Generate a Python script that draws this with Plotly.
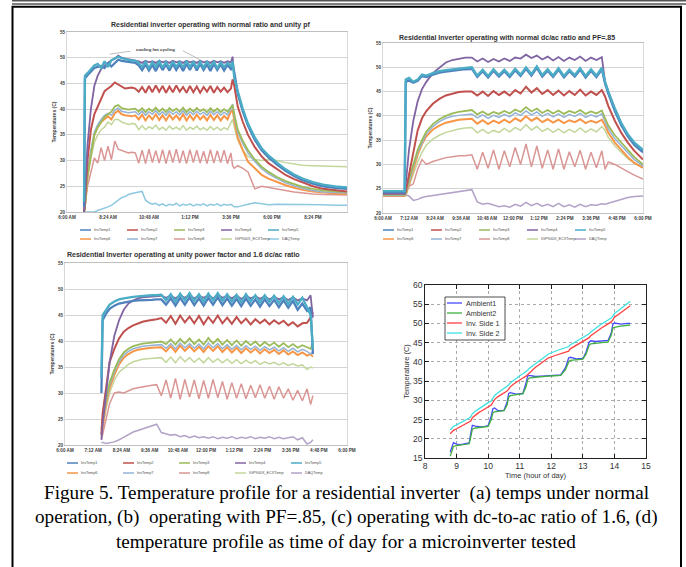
import plotly.graph_objects as go

W, H = 686, 567

# ----------------------------------------------------------------- data
SERIES_NAMES = ["InvTemp1", "InvTemp2", "InvTemp3", "InvTemp4", "InvTemp5",
                "InvTemp6", "InvTemp7", "InvTemp8", "IGP900X_ECXTemp", "DAQTemp"]

# ---- panel (a): normal ratio, unity pf (time in hours of day)
A_T = [7.0, 7.05, 7.2, 7.4, 7.6, 7.8, 8.0,
       8.2, 8.4, 8.6, 8.8, 9.0, 9.2, 9.4, 9.6, 9.8, 10.0,
       10.2, 10.4, 10.6, 10.8, 11.0, 11.2, 11.4,
       11.6, 11.8, 12.0, 12.2, 12.4, 12.6, 12.8,
       13.0, 13.2, 13.4, 13.6, 13.8, 14.0, 14.2,
       14.4, 14.6, 14.8, 15.0, 15.2, 15.4, 15.6,
       15.7, 15.8,
       16.0, 16.3, 16.6, 17.0, 17.4, 17.8, 18.3, 18.8, 19.3, 19.8, 20.4, 21.0, 21.7, 22.4]
A_INV1 = [21.0, 46.0, 46.6, 47.2, 48.0, 48.2, 48.4,
          48.0, 48.9, 48.3, 49.0, 49.6, 49.4, 49.3, 49.2, 49.1, 49.0,
          48.5, 47.6, 48.7, 47.5, 48.6, 47.4, 48.8,
          47.6, 48.7, 47.5, 48.8, 47.6, 48.7, 47.4,
          48.8, 47.6, 48.9, 47.5, 48.8, 47.6, 48.7,
          47.4, 48.8, 47.6, 48.7, 47.5, 48.6, 47.8,
          48.5, 47.2,
          43.0, 39.5, 36.8, 34.0, 32.0, 30.6, 29.2, 28.0, 27.0, 26.2, 25.5, 25.0, 24.7, 24.5]
A_INV2 = [20.0, 22.0, 30.0, 36.0, 39.0, 40.5, 42.0,
          43.5, 44.0, 44.5, 45.2, 44.8, 44.3, 44.0, 44.1, 44.2, 44.0,
          43.4, 44.3, 43.2, 44.5, 43.3, 44.6, 43.4,
          44.5, 43.2, 44.4, 43.3, 44.6, 43.4, 44.3,
          43.2, 44.5, 43.3, 44.4, 43.2, 44.3, 43.4,
          44.5, 43.2, 44.3, 43.4, 44.2, 43.3, 44.0,
          45.8, 44.5,
          40.5, 37.5, 35.0, 32.6, 30.8, 29.5, 28.3, 27.2, 26.4, 25.7, 25.0, 24.5, 24.2, 24.0]
A_INV3 = [20.0, 21.0, 27.0, 31.0, 35.0, 36.5, 37.5,
          38.5, 39.0, 39.5, 40.5, 40.8, 40.2, 40.0, 39.9, 40.0, 40.1,
          39.5, 40.2, 39.4, 40.1, 39.6, 40.3, 39.5,
          40.1, 39.4, 40.2, 39.6, 40.1, 39.5, 40.3,
          39.4, 40.1, 39.5, 40.2, 39.6, 40.0, 39.4,
          40.2, 39.5, 40.1, 39.4, 40.0, 39.5, 40.4,
          40.8, 39.0,
          36.0, 33.8, 32.0, 30.2, 28.8, 27.8, 26.8, 26.0, 25.4, 24.9, 24.5, 24.2, 24.0, 23.9]
A_INV4 = [20.0, 24.0, 33.0, 40.0, 44.5, 46.5, 47.8,
          48.5, 49.0, 49.5, 49.8, 50.4, 50.0, 49.8, 49.7, 49.6, 49.5,
          49.3, 49.0, 49.4, 49.1, 49.3, 49.0, 49.4,
          49.1, 49.3, 49.0, 49.4, 49.1, 49.3, 49.0,
          49.4, 49.1, 49.3, 49.0, 49.4, 49.1, 49.3,
          49.0, 49.4, 49.1, 49.3, 49.0, 49.3, 49.1,
          50.2, 46.5,
          43.2, 39.8, 37.0, 34.2, 32.2, 30.8, 29.4, 28.2, 27.2, 26.4, 25.6, 25.1, 24.8, 24.6]
A_INV5 = [22.0, 46.5, 47.0, 47.8, 48.5, 48.8, 48.0,
          49.3, 48.2, 49.5, 49.8, 50.2, 49.9, 49.7, 49.6, 49.5, 49.4,
          49.0, 48.2, 49.2, 48.0, 49.1, 48.3, 49.3,
          48.1, 49.2, 48.0, 49.3, 48.2, 49.2, 48.1,
          49.4, 48.2, 49.3, 48.0, 49.2, 48.1, 49.3,
          48.2, 49.2, 48.0, 49.1, 48.2, 49.0, 48.4,
          49.3, 46.0,
          43.5, 40.0, 37.2, 34.5, 32.4, 31.0, 29.6, 28.3, 27.3, 26.5, 25.8, 25.3, 25.0, 24.8]
A_INV6 = [20.0, 21.0, 27.0, 31.5, 35.0, 36.5, 37.5,
          38.0, 38.6, 38.0, 39.2, 39.7, 39.0, 38.8, 38.7, 38.6, 38.8,
          38.0, 38.9, 37.8, 38.8, 38.0, 39.0, 37.9,
          38.8, 37.8, 38.9, 38.0, 38.8, 37.9, 39.0,
          37.8, 38.8, 37.9, 38.9, 38.0, 38.7, 37.8,
          38.9, 37.9, 38.8, 37.8, 38.7, 38.0, 39.5,
          39.8, 37.8,
          34.5, 32.0, 29.8, 28.5, 27.2, 26.5, 25.8, 25.2, 24.7, 24.3, 24.0, 23.8, 23.6, 23.5]
A_INV7 = [20.0, 21.0, 27.5, 32.0, 35.5, 37.0, 38.0,
          38.8, 39.2, 38.8, 39.8, 40.2, 39.6, 39.4, 39.3, 39.4, 39.5,
          38.9, 39.6, 38.8, 39.5, 39.0, 39.7, 38.9,
          39.5, 38.8, 39.6, 39.0, 39.5, 38.9, 39.7,
          38.8, 39.5, 38.9, 39.6, 39.0, 39.4, 38.8,
          39.6, 38.9, 39.5, 38.8, 39.4, 38.9, 40.0,
          41.0, 38.5,
          35.5, 33.3, 31.5, 29.8, 28.4, 27.4, 26.5, 25.7, 25.1, 24.6, 24.2, 23.9, 23.8, 23.7]
A_INV8 = [20.0, 21.0, 25.0, 28.0, 30.5, 29.5, 32.5,
          30.0, 32.8, 30.2, 33.8, 32.2, 32.0, 31.8, 31.5, 31.6, 31.5,
          29.5, 32.0, 29.4, 32.2, 29.6, 31.9, 29.5,
          32.1, 29.4, 32.0, 29.6, 32.2, 29.5, 31.9,
          29.4, 32.1, 29.6, 32.0, 29.5, 31.8, 29.4,
          32.1, 29.5, 31.9, 29.6, 32.0, 29.4, 31.5,
          29.0, 28.5,
          29.0, 28.5, 27.8, 24.5, 25.0, 24.8, 24.5, 24.2, 23.9, 23.7, 23.5, 23.4, 23.3, 23.3]
A_IGP = [20.0, 21.0, 26.5, 30.5, 33.5, 35.0, 36.0,
         36.5, 37.5, 37.0, 38.0, 38.0, 37.5, 37.3, 37.0, 37.2, 37.1,
         36.0, 36.8, 36.0, 36.6, 36.2, 36.9, 36.0,
         36.5, 35.9, 36.7, 36.1, 36.5, 36.0, 36.8,
         35.9, 36.5, 36.1, 36.7, 36.0, 36.4, 35.9,
         36.6, 36.0, 36.5, 35.9, 36.4, 36.0, 37.5,
         38.0, 36.5,
         34.0, 32.0, 30.8, 30.2, 30.0, 30.2, 30.0, 29.6, 29.3, 29.1, 29.0, 28.9, 28.9, 28.8]
A_DAQ = [20.0, 20.0, 20.0, 20.0, 20.0, 20.3, 20.5,
         20.8, 21.0, 21.3, 21.8, 22.4, 22.8, 23.0, 23.4, 23.6, 23.8,
         23.9, 24.0, 22.3, 21.8, 21.5, 21.7, 21.3,
         21.6, 21.2, 21.5, 21.3, 21.7, 21.2, 21.5,
         21.3, 21.6, 21.2, 21.5, 21.3, 21.6, 21.2,
         21.5, 21.3, 21.6, 21.2, 21.5, 21.3, 21.5,
         21.2, 21.0,
         21.0, 21.3, 21.5, 21.8, 21.6, 21.4, 21.5, 21.5, 21.5, 21.5, 21.4, 21.4, 21.3, 21.3]

# ---- panel (b): normal dc/ac ratio, PF=.85
B_T = [6.0, 6.5, 7.0, 7.05, 7.2, 7.4, 7.6, 7.8, 8.0, 8.3, 8.6, 8.9, 9.2, 9.5, 9.8, 10.1,
       10.35, 10.6, 10.85, 11.1, 11.35, 11.6,
       11.85, 12.1, 12.35, 12.6, 12.85, 13.1,
       13.35, 13.6, 13.85, 14.1, 14.35, 14.6,
       14.85, 15.1, 15.35, 15.6, 15.85, 16.1,
       16.25, 16.4, 16.7, 17.0, 17.3, 17.6, 18.0]
B_INV1 = [24.3, 24.3, 24.3, 47.0, 47.3, 46.8, 47.2, 48.2, 48.0, 48.5, 48.9, 49.1, 49.3, 49.5, 49.6, 49.7,
          48.0, 49.2, 47.9, 49.3, 48.1, 49.2,
          48.0, 49.4, 48.2, 49.7, 48.3, 49.9,
          48.1, 49.3, 48.0, 49.5, 47.9, 49.2,
          48.1, 49.5, 47.9, 49.3, 48.0, 49.6,
          46.6, 44.6, 41.0, 38.0, 35.8, 34.0, 32.5]
B_INV2 = [24.0, 24.0, 24.0, 24.5, 28.0, 33.0, 37.0, 39.5, 41.0, 42.5, 43.5, 44.2, 44.6, 44.9, 45.0, 45.0,
          44.2, 45.0, 44.1, 45.1, 44.3, 45.0,
          44.2, 45.3, 44.6, 46.0, 44.8, 45.7,
          44.5, 45.3, 44.3, 45.2, 44.2, 45.1,
          44.3, 45.4, 44.2, 45.0, 44.3, 45.3,
          44.0, 42.0, 39.0, 36.5, 34.5, 32.8, 31.0]
B_INV3 = [23.8, 23.8, 23.8, 24.0, 27.0, 30.0, 33.0, 35.0, 36.8, 38.3, 39.3, 40.0, 40.5, 40.8, 41.0, 41.2,
          40.3, 40.9, 40.2, 40.8, 40.4, 41.0,
          40.5, 41.3, 40.8, 41.8, 40.9, 41.5,
          40.6, 41.2, 40.5, 41.1, 40.4, 41.0,
          40.6, 41.2, 40.4, 40.9, 40.5, 41.1,
          39.5, 38.0, 36.0, 34.5, 33.0, 31.5, 30.0]
B_INV4 = [24.0, 24.0, 24.0, 26.0, 33.0, 39.0, 43.0, 45.5, 47.0, 48.8, 50.0, 51.0, 51.5, 51.8, 52.0, 52.0,
          51.2, 51.8, 51.1, 51.7, 51.2, 51.8,
          51.3, 52.0, 51.8, 52.6, 51.9, 52.4,
          51.6, 52.2, 51.4, 52.1, 51.3, 52.0,
          51.5, 52.2, 51.3, 52.0, 51.5, 52.1,
          47.0, 45.0, 41.5, 38.5, 36.0, 34.2, 32.6]
B_INV5 = [24.5, 24.5, 24.5, 47.5, 47.8, 47.0, 47.5, 48.5, 48.3, 48.8, 49.2, 49.4, 49.6, 49.8, 49.9, 50.0,
          48.3, 49.5, 48.2, 49.6, 48.4, 49.5,
          48.3, 49.7, 48.5, 50.0, 48.6, 50.2,
          48.4, 49.6, 48.3, 49.8, 48.2, 49.5,
          48.4, 49.8, 48.2, 49.6, 48.3, 49.9,
          47.0, 45.0, 41.5, 38.5, 36.2, 34.5, 33.0]
B_INV6 = [23.5, 23.5, 23.5, 23.7, 26.0, 29.0, 32.0, 34.2, 35.8, 37.2, 38.0, 38.6, 38.9, 39.2, 39.3, 39.4,
          38.4, 39.1, 38.3, 39.0, 38.5, 39.2,
          38.6, 39.5, 38.9, 39.9, 39.0, 39.6,
          38.7, 39.3, 38.6, 39.2, 38.5, 39.1,
          38.7, 39.3, 38.5, 39.0, 38.6, 39.2,
          38.0, 36.5, 34.5, 33.0, 31.5, 30.3, 29.3]
B_INV7 = [23.6, 23.6, 23.6, 23.8, 26.5, 29.5, 32.5, 34.5, 36.3, 37.8, 38.8, 39.5, 39.9, 40.1, 40.3, 40.4,
          39.6, 40.2, 39.5, 40.1, 39.7, 40.3,
          39.8, 40.6, 40.1, 41.0, 40.2, 40.8,
          39.9, 40.5, 39.8, 40.4, 39.7, 40.3,
          39.9, 40.5, 39.7, 40.2, 39.8, 40.4,
          38.8, 37.3, 35.3, 33.8, 32.3, 31.0, 29.7]
B_INV8 = [23.5, 23.5, 23.5, 24.0, 25.5, 26.0, 29.0, 31.0, 30.0, 30.6, 31.0, 31.4, 31.6, 31.8, 31.8, 32.0,
          29.0, 32.5, 29.2, 33.0, 29.0, 32.8,
          29.5, 33.5, 30.0, 34.2, 29.5, 33.8,
          29.2, 33.0, 29.0, 33.2, 29.0, 32.6,
          29.5, 32.9, 29.0, 32.5, 29.3, 32.8,
          29.0, 30.5, 30.0, 29.2, 28.5, 27.8, 27.0]
B_IGP = [23.5, 23.5, 23.5, 23.6, 25.5, 28.0, 30.5, 32.5, 34.0, 35.2, 36.0, 36.6, 37.0, 37.3, 37.5, 37.6,
         36.5, 37.2, 36.4, 37.0, 36.6, 37.4,
         36.7, 37.6, 37.0, 38.2, 37.1, 37.8,
         36.8, 37.4, 36.6, 37.3, 36.5, 37.2,
         36.6, 37.5, 36.6, 37.3, 36.7, 37.8,
         37.0, 35.5, 33.8, 32.5, 31.2, 30.2, 29.5]
B_DAQ = [23.8, 23.8, 23.8, 23.7, 23.5, 22.6, 22.8, 23.2, 23.4, 23.6, 23.8, 24.0, 24.2, 24.4, 24.6, 24.8,
         22.3, 21.8, 22.0, 21.6, 21.3, 21.5,
         21.2, 21.8, 21.4, 22.2, 21.5, 22.0,
         21.4, 21.8, 21.3, 22.0, 21.3, 21.7,
         21.2, 21.8, 21.3, 21.7, 21.6, 21.9,
         21.8, 22.0, 22.4, 22.8, 23.2, 23.4, 23.5]

# ---- panel (c): unity power factor and 1.6 dc/ac ratio
C_T = [7.55, 7.6, 7.75, 7.9, 8.1, 8.3, 8.5, 8.7, 8.9, 9.1, 9.3, 9.5, 9.7, 9.9, 10.1,
       10.3, 10.5, 10.7, 10.9, 11.1, 11.3,
       11.5, 11.7, 11.9, 12.1, 12.3, 12.5,
       12.7, 12.9, 13.1, 13.3, 13.5, 13.7,
       13.9, 14.1, 14.3, 14.5, 14.7, 14.9,
       15.1, 15.3, 15.5, 15.7, 15.9, 16.1,
       16.3, 16.45, 16.55]
C_INV1 = [30.0, 44.0, 45.3, 46.2, 46.8, 47.2, 47.4, 47.6, 47.7, 47.8, 47.8, 47.9, 47.9, 48.0, 48.0,
          47.0, 48.2, 46.8, 48.3, 47.0, 48.4,
          46.9, 48.2, 46.8, 48.3, 47.0, 48.4,
          46.9, 48.2, 46.8, 48.1, 46.7, 48.2,
          46.8, 48.0, 46.6, 48.0, 46.7, 47.9,
          46.5, 47.8, 46.4, 47.7, 46.0, 47.2,
          45.8, 46.5, 37.5]
C_INV2 = [22.0, 26.0, 31.0, 36.0, 38.5, 40.5, 41.8, 42.5, 43.0, 43.4, 43.7, 43.9, 44.0, 44.2, 44.4,
          43.5, 44.8, 43.3, 44.9, 43.6, 44.7,
          43.4, 44.8, 43.2, 44.6, 43.5, 44.9,
          43.4, 44.5, 43.3, 44.6, 43.4, 44.3,
          43.2, 44.2, 43.4, 44.1, 43.2, 44.0,
          43.3, 43.9, 43.0, 43.6, 42.8, 43.4,
          43.5, 44.5, 45.5]
C_INV3 = [23.0, 25.0, 29.0, 32.0, 34.5, 36.5, 37.8, 38.5, 39.0, 39.3, 39.5, 39.6, 39.7, 39.8, 39.9,
          39.4, 40.3, 39.3, 40.4, 39.5, 40.5,
          39.4, 40.3, 39.3, 40.6, 39.5, 40.4,
          39.3, 40.2, 39.2, 40.1, 39.1, 40.0,
          39.2, 39.9, 39.0, 39.8, 39.1, 39.7,
          38.9, 39.6, 38.8, 39.4, 38.7, 39.2,
          38.8, 38.5, 39.5]
C_INV4 = [21.0, 24.0, 30.0, 36.0, 41.0, 44.0, 46.0, 47.2, 47.8, 48.2, 48.4, 48.5, 48.6, 48.6, 48.7,
          48.3, 48.7, 48.2, 48.8, 48.3, 48.9,
          48.2, 48.7, 48.3, 48.8, 48.2, 48.9,
          48.3, 48.7, 48.2, 48.8, 48.1, 48.7,
          48.2, 48.6, 48.1, 48.6, 48.0, 48.5,
          48.0, 48.4, 47.9, 48.4, 47.8, 48.2,
          47.8, 48.8, 44.5]
C_INV5 = [33.0, 45.0, 46.0, 47.0, 47.6, 48.0, 48.2, 48.4, 48.5, 48.6, 48.7, 48.7, 48.8, 48.8, 48.9,
          47.8, 49.0, 47.6, 49.1, 47.8, 49.2,
          47.7, 49.0, 47.6, 49.1, 47.8, 49.2,
          47.7, 49.0, 47.6, 48.9, 47.5, 49.0,
          47.6, 48.8, 47.4, 48.8, 47.5, 48.7,
          47.3, 48.6, 47.2, 48.5, 47.0, 48.3,
          46.5, 45.0, 38.5]
C_INV6 = [22.0, 23.5, 28.0, 31.0, 33.5, 35.5, 36.8, 37.5, 38.0, 38.3, 38.5, 38.6, 38.7, 38.7, 38.8,
          38.0, 39.0, 37.9, 39.1, 38.1, 39.0,
          38.0, 38.9, 37.9, 39.0, 38.1, 39.0,
          37.9, 38.8, 37.8, 38.7, 37.7, 38.6,
          37.8, 38.5, 37.6, 38.4, 37.7, 38.3,
          37.5, 38.2, 37.4, 38.0, 37.3, 37.8,
          37.2, 37.5, 37.0]
C_INV7 = [22.0, 24.0, 28.5, 31.5, 34.0, 36.0, 37.3, 38.0, 38.5, 38.8, 39.0, 39.1, 39.2, 39.3, 39.3,
          38.6, 39.5, 38.5, 39.6, 38.7, 39.5,
          38.6, 39.4, 38.5, 39.6, 38.7, 39.5,
          38.5, 39.3, 38.4, 39.2, 38.3, 39.1,
          38.4, 39.0, 38.2, 38.9, 38.3, 38.8,
          38.1, 38.7, 38.0, 38.6, 37.9, 38.4,
          38.0, 37.5, 38.0]
C_INV8 = [21.0, 22.0, 25.0, 28.0, 30.0, 30.2, 30.0, 30.4, 30.8, 31.0, 31.2, 31.4, 31.5, 31.6, 29.5,
          32.5, 29.0, 32.8, 28.8, 32.6, 29.2,
          32.5, 28.9, 32.4, 29.0, 32.6, 29.1,
          32.2, 28.8, 32.0, 29.0, 31.8, 28.9,
          31.5, 29.1, 31.6, 29.0, 31.3, 28.8,
          31.2, 29.0, 30.8, 28.6, 30.5, 28.5,
          30.8, 27.8, 29.5]
C_IGP = [21.5, 23.0, 27.0, 30.0, 32.5, 34.0, 34.8, 35.5, 36.0, 36.3, 36.5, 36.6, 36.7, 36.8, 36.8,
         35.9, 36.9, 35.8, 37.0, 36.0, 36.8,
         35.9, 36.7, 35.8, 36.8, 35.9, 36.6,
         35.8, 36.5, 35.7, 36.4, 35.6, 36.3,
         35.7, 36.2, 35.5, 36.0, 35.6, 35.9,
         35.4, 35.8, 35.3, 35.6, 35.2, 35.4,
         34.5, 35.0, 34.8]
C_DAQ = [20.5, 20.5, 20.3, 20.4, 20.6, 21.0, 21.5, 22.0, 22.5, 22.8, 23.1, 23.4, 23.7, 24.0, 22.4,
         22.2, 21.9, 22.0, 21.6, 21.8, 21.4,
         21.7, 21.4, 21.6, 21.3, 21.6, 21.2,
         21.5, 21.3, 21.6, 21.2, 21.5, 21.3,
         21.6, 21.2, 21.5, 21.3, 21.6, 21.2,
         21.5, 21.2, 21.4, 21.6, 21.0, 21.4,
         20.2, 20.5, 21.0]

# ---- panel (d): microinverter temperature vs hour of day
D_T = [8.80, 8.85, 8.9, 9.0, 9.1, 9.2, 9.3, 9.4, 9.45, 9.5,
       9.6, 9.7, 9.8, 9.9, 10.0, 10.1, 10.15, 10.2, 10.3, 10.4,
       10.5, 10.6, 10.65, 10.7, 10.8, 10.9, 11.0, 11.1, 11.2, 11.25,
       11.3, 11.5, 11.7, 11.9, 12.1, 12.3, 12.45, 12.55, 12.6, 12.8,
       13.0, 13.1, 13.2, 13.25, 13.4, 13.6, 13.8, 13.9, 13.95, 14.0,
       14.2, 14.4, 14.5]
D_AMB1 = [16.5, 18.0, 19.0, 18.6, 18.5, 18.6, 18.7, 18.9, 21.5, 23.5,
          23.3, 23.1, 23.1, 23.2, 23.4, 26.0, 27.8, 28.0, 27.4, 27.3,
          27.4, 29.5, 31.8, 32.0, 31.7, 31.6, 31.7, 31.8, 34.5, 36.3,
          36.5, 36.2, 36.3, 36.4, 36.5, 36.6, 38.5, 41.0, 41.2, 40.8,
          40.9, 42.5, 45.2, 45.5, 45.3, 45.4, 45.6, 47.5, 49.8, 50.1,
          49.8, 50.0, 50.0]
D_AMB2 = [15.5, 17.0, 18.0, 18.2, 18.3, 18.4, 18.5, 18.7, 20.5, 22.5,
          22.8, 22.9, 23.0, 23.1, 23.2, 25.0, 26.8, 27.0, 27.1, 27.2,
          27.3, 28.8, 30.8, 31.2, 31.4, 31.5, 31.6, 31.7, 33.5, 35.3,
          35.8, 36.0, 36.2, 36.3, 36.4, 36.5, 38.0, 40.0, 40.4, 40.5,
          40.7, 42.0, 44.3, 44.7, 44.9, 45.0, 45.2, 47.0, 48.8, 49.0,
          49.3, 49.5, 49.6]
D_SIDE1 = [21.3, 21.8, 22.2, 22.6, 23.0, 23.5, 24.0, 24.3, 24.6, 25.5,
           26.2, 26.8, 27.3, 27.8, 28.3, 28.8, 29.5, 30.2, 30.9, 31.4,
           31.9, 32.4, 32.9, 33.5, 34.2, 34.8, 35.3, 35.8, 36.3, 36.7,
           37.2, 38.6, 39.8, 41.0, 41.6, 42.1, 42.4, 42.8, 43.4, 44.4,
           45.5, 46.0, 46.3, 46.8, 47.8, 48.9, 49.9, 50.4, 50.9, 51.6,
           52.8, 54.0, 54.6]
D_SIDE2 = [22.3, 22.8, 23.2, 23.6, 24.0, 24.5, 25.0, 25.4, 25.7, 26.5,
           27.2, 27.8, 28.4, 28.9, 29.4, 29.9, 30.5, 31.2, 31.9, 32.5,
           33.0, 33.5, 34.0, 34.5, 35.2, 35.8, 36.4, 36.9, 37.4, 37.8,
           38.3, 39.6, 40.8, 42.0, 42.7, 43.2, 43.6, 44.0, 44.4, 45.4,
           46.4, 46.9, 47.3, 47.8, 48.8, 49.9, 50.9, 51.4, 51.9, 52.6,
           53.8, 55.1, 55.8]
D_NAMES = ["Ambient1", "Ambient2", "Inv. Side 1", "Inv. Side 2"]

# ---- tick labels / texts
TICKS_A = [6.0, 8.4, 10.8, 13.2, 15.6, 18.0, 20.4]
LABELS_A = ["6:00 AM", "8:24 AM", "10:48 AM", "1:12 PM", "3:36 PM", "6:00 PM", "8:24 PM"]
TICKS_BC = [6.0, 7.2, 8.4, 9.6, 10.8, 12.0, 13.2, 14.4, 15.6, 16.8, 18.0]
LABELS_BC = ["6:00 AM", "7:12 AM", "8:24 AM", "9:36 AM", "10:48 AM", "12:00 PM",
             "1:12 PM", "2:24 PM", "3:36 PM", "4:48 PM", "6:00 PM"]
TEMP_TICKS = [20, 25, 30, 35, 40, 45, 50, 55]
D_XTICKS = [8, 9, 10, 11, 12, 13, 14, 15]
D_YTICKS = [15, 20, 25, 30, 35, 40, 45, 50, 55, 60]
TITLE_A = "Residential inverter operating with normal ratio and unity pf"
TITLE_B = "Residential Inverter operating with normal dc/ac ratio and PF=.85"
TITLE_C = "Residential Inverter operating at unity power factor and 1.6 dc/ac ratio"
CAPTION = ["Figure 5. Temperature profile for a residential inverter  (a) temps under normal",
           "operation, (b)  operating with PF=.85, (c) operating with dc-to-ac ratio of 1.6, (d)",
           "temperature profile as time of day for a microinverter tested"]

# ----------------------------------------------------------------- styling
COLORS_A = ["#4F81BD", "#C0504D", "#9BBB59", "#8064A2", "#4BACC6",
            "#F79646", "#95B3D7", "#D99694", "#C3D69B", "#8DC8E0"]
COLORS_BC = ["#4F81BD", "#C0504D", "#9BBB59", "#8064A2", "#4BACC6",
             "#F79646", "#95B3D7", "#D99694", "#C3D69B", "#B3A2C7"]
WIDTHS = [2.3, 2.0, 1.8, 1.8, 2.3, 2.0, 1.5, 1.5, 1.5, 1.5]
D_COLORS = ["#4A4AFF", "#3FAF3F", "#FF4040", "#3FE0E0"]
DRAW_ORDER = [8, 9, 7, 5, 6, 2, 1, 3, 0, 4]

A_SERIES = [A_INV1, A_INV2, A_INV3, A_INV4, A_INV5, A_INV6, A_INV7, A_INV8, A_IGP, A_DAQ]
B_SERIES = [B_INV1, B_INV2, B_INV3, B_INV4, B_INV5, B_INV6, B_INV7, B_INV8, B_IGP, B_DAQ]
C_SERIES = [C_INV1, C_INV2, C_INV3, C_INV4, C_INV5, C_INV6, C_INV7, C_INV8, C_IGP, C_DAQ]
D_SERIES = [D_AMB1, D_AMB2, D_SIDE1, D_SIDE2]

for t, group in [(A_T, A_SERIES), (B_T, B_SERIES), (C_T, C_SERIES), (D_T, D_SERIES)]:
    for s in group:
        assert len(s) == len(t), (len(s), len(t))


def px(x):
    return x / W


def py(y):
    return 1 - y / H


fig = go.Figure()

for t, group, colors, xa, ya in [(A_T, A_SERIES, COLORS_A, "x", "y"),
                                 (B_T, B_SERIES, COLORS_BC, "x2", "y2"),
                                 (C_T, C_SERIES, COLORS_BC, "x3", "y3")]:
    for i in DRAW_ORDER:
        fig.add_trace(go.Scatter(x=t, y=group[i], mode="lines", name=SERIES_NAMES[i],
                                 line=dict(color=colors[i], width=WIDTHS[i]),
                                 xaxis=xa, yaxis=ya, showlegend=False))

for name, vals, col in zip(D_NAMES, D_SERIES, D_COLORS):
    fig.add_trace(go.Scatter(x=D_T, y=vals, mode="lines", name=name,
                             line=dict(color=col, width=1.3),
                             xaxis="x4", yaxis="y4", showlegend=False))

EX_FONT = dict(family="Liberation Sans", size=4.6, color="#404040", weight="bold")


def excel_x(dom, rng, ticks, labels, anchor):
    return dict(domain=dom, range=rng, tickvals=ticks, ticktext=labels, tickfont=EX_FONT,
                showgrid=False, zeroline=False, showline=True, linecolor="#BFBFBF",
                linewidth=1, mirror=True, ticks="", anchor=anchor, automargin=False,
                tickangle=0)


def excel_y(dom, anchor):
    return dict(domain=dom, range=[20, 55], tickvals=TEMP_TICKS, tickfont=EX_FONT,
                showgrid=True, gridcolor="#D4D4D4", gridwidth=0.8, zeroline=False,
                showline=True, linecolor="#D9D9D9", mirror=True, ticks="",
                anchor=anchor, automargin=False,
                title=dict(text="Temperatures (C)", standoff=3,
                           font=dict(family="Liberation Sans", size=5, color="#404040",
                                     weight="bold")))


layout = dict(
    width=W, height=H, margin=dict(l=0, r=0, t=0, b=0),
    paper_bgcolor="white", plot_bgcolor="white", template="none", showlegend=False,
    xaxis=excel_x([px(67), px(347)], [6, 22.4], TICKS_A, LABELS_A, "y"),
    yaxis=excel_y([py(212), py(32)], "x"),
    xaxis2=excel_x([px(383), px(643)], [6, 18], TICKS_BC, LABELS_BC, "y2"),
    yaxis2=excel_y([py(213), py(43)], "x2"),
    xaxis3=excel_x([px(65), px(347)], [6, 18], TICKS_BC, LABELS_BC, "y3"),
    yaxis3=excel_y([py(445), py(263)], "x3"),
    xaxis4=dict(domain=[px(425), px(646)], range=[8, 15], tickvals=D_XTICKS, anchor="y4",
                showline=True, linecolor="#222", linewidth=0.8, mirror="allticks",
                ticks="inside", ticklen=4, tickcolor="#222", showgrid=True,
                gridcolor="#AAAAAA", griddash="dot", gridwidth=0.6, zeroline=False,
                tickfont=dict(family="Liberation Sans", size=8.5, color="#333"),
                automargin=False,
                title=dict(text="Time (hour of day)", standoff=0,
                           font=dict(family="Liberation Sans", size=7.5, color="#333"))),
    yaxis4=dict(domain=[py(458), py(285)], range=[15, 60], tickvals=D_YTICKS, anchor="x4",
                showline=True, linecolor="#222", linewidth=0.8, mirror="allticks",
                ticks="inside", ticklen=4, tickcolor="#222", showgrid=True,
                gridcolor="#AAAAAA", griddash="dot", gridwidth=0.6, zeroline=False,
                tickfont=dict(family="Liberation Sans", size=8.5, color="#333"),
                automargin=False,
                title=dict(text="Temperature (C)", standoff=2,
                           font=dict(family="Liberation Sans", size=7.5, color="#333"))),
)
fig.update_layout(**layout)

shapes = []
annotations = []

# frame of the figure
shapes.append(dict(type="line", xref="paper", yref="paper", x0=px(12), x1=px(686),
                   y0=py(0.8), y1=py(0.8), line=dict(color="#555", width=1.5)))
shapes.append(dict(type="line", xref="paper", yref="paper", x0=px(12), x1=px(686),
                   y0=py(4), y1=py(4), line=dict(color="#000", width=1)))
shapes.append(dict(type="rect", xref="paper", yref="paper", x0=px(12.5), x1=px(681),
                   y0=py(572), y1=py(6.8), line=dict(color="#000", width=2)))

# chart titles
for txt, cx, cy in [(TITLE_A, 210, 25), (TITLE_B, 507, 38), (TITLE_C, 183, 255)]:
    annotations.append(dict(text=txt, x=px(cx), y=py(cy), xref="paper", yref="paper",
                            showarrow=False, xanchor="center", yanchor="middle",
                            font=dict(family="Liberation Sans", size=7.0, color="#303030",
                                      weight="bold")))


# Excel-style legends (two rows of five)
def excel_legend(colors, x0, dx, rows):
    for i, (n, c) in enumerate(zip(SERIES_NAMES, colors)):
        r, k = divmod(i, 5)
        x = x0 + k * dx
        y = rows[r]
        shapes.append(dict(type="line", xref="paper", yref="paper", x0=px(x), x1=px(x + 11),
                           y0=py(y), y1=py(y), line=dict(color=c, width=1.5)))
        annotations.append(dict(text=n, x=px(x + 12), y=py(y), xref="paper", yref="paper",
                                showarrow=False, xanchor="left", yanchor="middle",
                                font=dict(family="Liberation Sans", size=3.8, color="#505050")))


excel_legend(COLORS_A, 80, 47, [230, 239])
excel_legend(COLORS_BC, 383, 48, [230, 239])
excel_legend(COLORS_BC, 67, 56, [463, 473])

# cooling-fan annotation on panel (a)
annotations.append(dict(text="cooling fan cycling", x=11.2, y=51.6, xref="x", yref="y",
                        showarrow=False, font=dict(family="Liberation Sans", size=4.3,
                                                   color="#404040", weight="bold")))
annotations.append(dict(text="", x=8.5, y=50.7, ax=9.8, ay=51.3, xref="x", yref="y",
                        axref="x", ayref="y", showarrow=True, arrowhead=0,
                        arrowwidth=0.7, arrowcolor="#A0A0A0"))
annotations.append(dict(text="", x=13.8, y=49.6, ax=12.7, ay=51.5, xref="x", yref="y",
                        axref="x", ayref="y", showarrow=True, arrowhead=0,
                        arrowwidth=0.7, arrowcolor="#A0A0A0"))

# MATLAB-style legend for panel (d)
shapes.append(dict(type="rect", xref="paper", yref="paper", x0=px(445), x1=px(505),
                   y0=py(340), y1=py(297), line=dict(color="#222", width=0.8),
                   fillcolor="white", layer="above"))
for k, (n, c) in enumerate(zip(D_NAMES, D_COLORS)):
    y = 303 + k * 10
    shapes.append(dict(type="line", xref="paper", yref="paper", x0=px(447), x1=px(462),
                       y0=py(y), y1=py(y), line=dict(color=c, width=1.3), layer="above"))
    annotations.append(dict(text=n, x=px(464), y=py(y), xref="paper", yref="paper",
                            showarrow=False, xanchor="left", yanchor="middle",
                            font=dict(family="Liberation Sans", size=7.2, color="#333")))

# caption
for k, line in enumerate(CAPTION):
    annotations.append(dict(text=line, x=px(346), y=py(493 + k * 24), xref="paper",
                            yref="paper", showarrow=False, xanchor="center",
                            yanchor="middle",
                            font=dict(family="Liberation Serif", size=19.2, color="#000")))

fig.update_layout(shapes=shapes, annotations=annotations)
fig.write_html("out.html", config={"displayModeBar": False},
               post_script="document.body.style.margin='0px';document.body.style.padding='0px';")
